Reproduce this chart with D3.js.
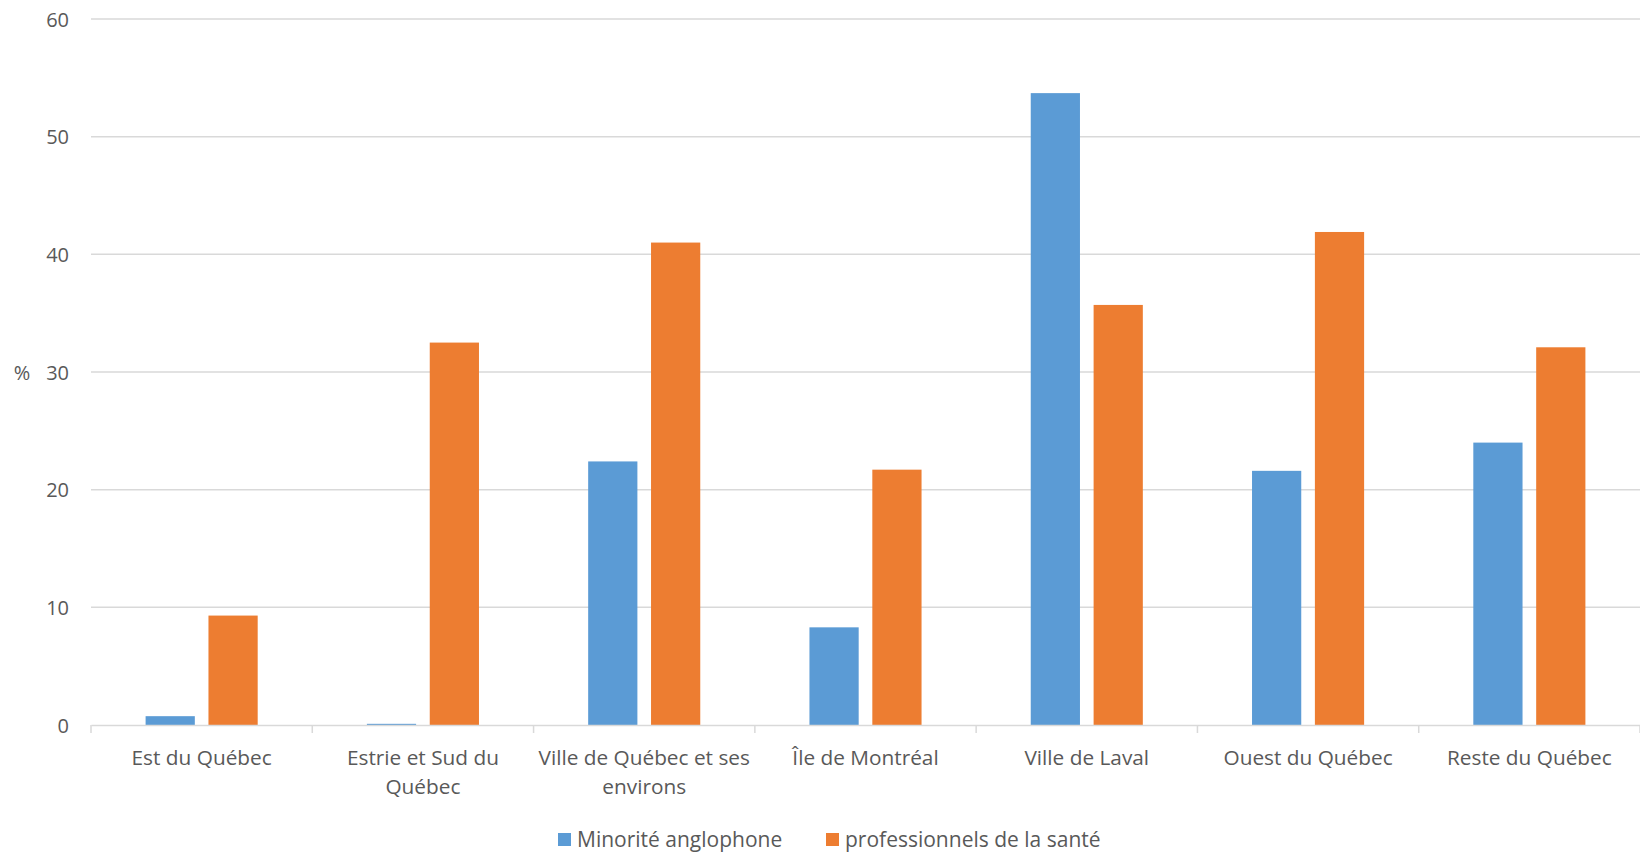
<!DOCTYPE html>
<html><head><meta charset="utf-8">
<script src="https://cdn.jsdelivr.net/npm/d3@7"></script>
<style>body{margin:0;background:#fff;} svg{display:block;}</style>
</head><body>
<svg id="chart" width="1640" height="852"></svg>
<script>
const categories = ["Est du Québec","Estrie et Sud du Québec","Ville de Québec et ses environs","Île de Montréal","Ville de Laval","Ouest du Québec","Reste du Québec"];
const seriesNames = ["Minorité anglophone","professionnels de la santé"];
const minorite = [0.75, 0.1, 22.4, 8.3, 53.7, 21.6, 24.0];
const professionnels = [9.3, 32.5, 41.0, 21.7, 35.7, 41.9, 32.1];
const yTicks = [0,10,20,30,40,50,60];
const colors = ["#5B9BD5","#ED7D31"];

(function(){
const svg = d3.select("#chart");
const font = "'Open Sans', sans-serif";
const textColor = "#595959";
const mLeft = 91, mRight = 1640, mTop = 19, mBottom = 725;

const x0 = d3.scaleBand().domain(categories).range([mLeft, mRight]).paddingInner(0).paddingOuter(0);
const x1 = d3.scaleBand().domain(seriesNames).range([54.6, x0.bandwidth()-54.6]).paddingInner(0.217).paddingOuter(0);
const y = d3.scaleLinear().domain([0,60]).range([mBottom, mTop]);

svg.append("g").selectAll("line").data(yTicks.filter(d=>d>0)).join("line")
  .attr("x1", mLeft).attr("x2", mRight)
  .attr("y1", d=>y(d)).attr("y2", d=>y(d))
  .attr("stroke", "#d9d9d9").attr("stroke-width", 1.5);

const yAxis = d3.axisLeft(y).tickValues(yTicks).tickSize(0).tickPadding(0);
const ya = svg.append("g").attr("transform", `translate(${69},0)`).call(yAxis);
ya.select(".domain").remove();
ya.selectAll("text").attr("font-family", font).attr("font-size", 20).attr("fill", textColor).attr("dy", "0.35em");

const data = categories.map((c,i)=>({cat:c, vals:[minorite[i], professionnels[i]]}));
const groups = svg.append("g").selectAll("g").data(data).join("g")
  .attr("transform", d=>`translate(${x0(d.cat)},0)`);
groups.selectAll("rect").data(d=>d.vals.map((v,j)=>({s:seriesNames[j], v, j}))).join("rect")
  .attr("x", d=>x1(d.s)).attr("width", x1.bandwidth())
  .attr("y", d=>y(d.v)).attr("height", d=>y(0)-y(d.v))
  .attr("fill", d=>colors[d.j]);

const xAxis = d3.axisBottom(x0).tickSize(0).tickPadding(0);
const xa = svg.append("g").attr("transform", `translate(0,${mBottom})`).call(xAxis);
xa.select(".domain").attr("stroke", "#d9d9d9").attr("stroke-width", 1.5);
xa.selectAll(".tick").remove();
const bounds = categories.map(c=>x0(c)).concat([mRight]);
xa.selectAll(".btick").data(bounds).join("line").attr("class","btick")
  .attr("x1", d=>d).attr("x2", d=>d).attr("y1", 0).attr("y2", 8)
  .attr("stroke", "#d9d9d9").attr("stroke-width", 1.5);

function wrapWords(text, maxW, measure){
  const words = text.split(" "); const lines=[]; let cur="";
  for(const w of words){ const t = cur? cur+" "+w : w; if(measure(t) > maxW && cur){ lines.push(cur); cur=w; } else cur=t; }
  if(cur) lines.push(cur); return lines;
}
const catSize = 20.8;
const meas = svg.append("text").attr("font-family", font).attr("font-size", catSize).attr("visibility","hidden");
const measure = t => { meas.text(t); return meas.node().getComputedTextLength(); };
const labels = svg.append("g");
categories.forEach(c=>{
  const lines = wrapWords(c, x0.bandwidth() + 4, measure);
  const t = labels.append("text").attr("font-family", font).attr("font-size", catSize).attr("fill", textColor)
    .attr("text-anchor","middle");
  lines.forEach((l,i)=>t.append("tspan").attr("x", x0(c)+x0.bandwidth()/2).attr("y", 765 + i*29).text(l));
});
meas.remove();

svg.append("text").attr("x", 22).attr("y", 380).attr("text-anchor","middle")
  .attr("font-family", font).attr("font-size", 20).attr("fill", textColor).text("%");

const legendItems = [{n:seriesNames[0], c:colors[0], x:558},{n:seriesNames[1], c:colors[1], x:826}];
const lg = svg.append("g");
legendItems.forEach(it=>{
  lg.append("rect").attr("x", it.x).attr("y", 833).attr("width", 13).attr("height", 13).attr("fill", it.c);
  lg.append("text").attr("x", it.x+19).attr("y", 846.5).attr("font-family", font).attr("font-size", 21)
    .attr("fill", textColor).text(it.n);
});
})();
</script>
</body></html>
